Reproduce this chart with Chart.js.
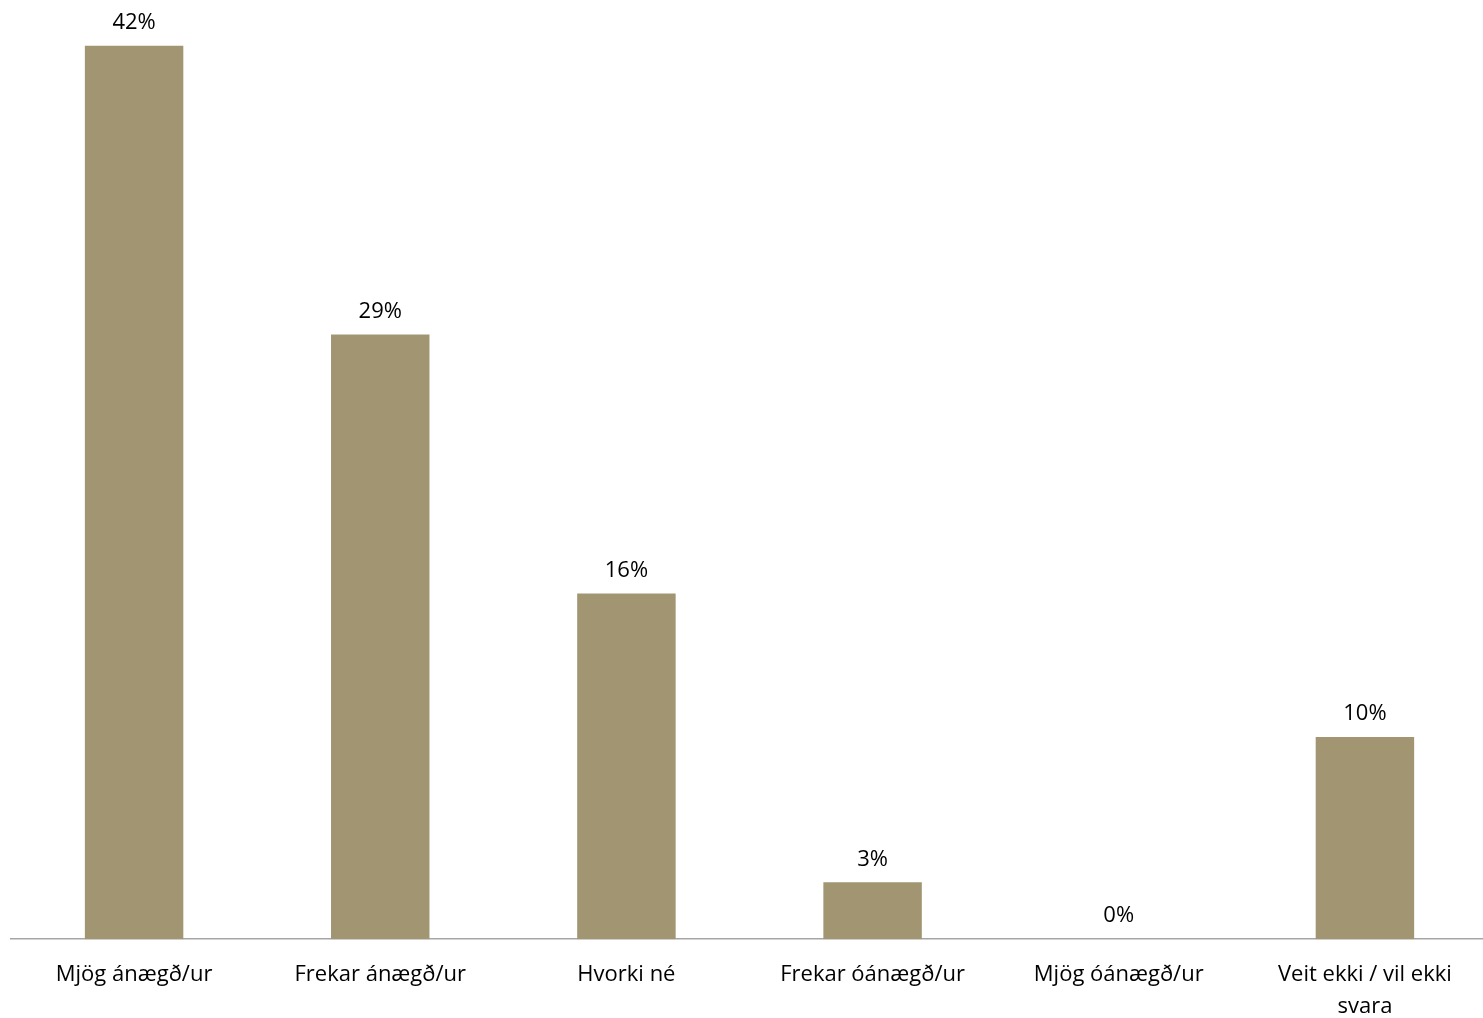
<!DOCTYPE html>
<html>
<head>
<meta charset="utf-8">
<script src="https://cdn.jsdelivr.net/npm/chart.js@4"></script>
<style>
html,body{margin:0;padding:0;background:#fff;overflow:hidden;}
#wrap{width:1489px;height:1018px;position:relative;}
</style>
</head>
<body>
<div id="wrap"><canvas id="c"></canvas></div>
<script>
const categories = ["Mjög ánægð/ur", "Frekar ánægð/ur", "Hvorki né", "Frekar óánægð/ur", "Mjög óánægð/ur", ["Veit ekki / vil ekki", "svara"]];
const values = [42.4, 28.7, 16.4, 2.7, 0, 9.6];
const valueLabels = ["42%", "29%", "16%", "3%", "0%", "10%"];

const FONT = "'Open Sans', 'Noto Sans', sans-serif";

const labelPlugin = {
  id: 'valueLabels',
  afterDatasetsDraw(chart) {
    const ctx = chart.ctx;
    const meta = chart.getDatasetMeta(0);
    ctx.save();
    ctx.font = "22px " + FONT;
    ctx.fillStyle = "#000";
    ctx.textAlign = "center";
    ctx.textBaseline = "bottom";
    meta.data.forEach((bar, i) => {
      ctx.fillText(valueLabels[i], bar.x, bar.y - 12);
    });
    ctx.restore();
  }
};

new Chart(document.getElementById('c'), {
  type: 'bar',
  data: {
    labels: categories,
    datasets: [{
      data: values,
      backgroundColor: '#A29572',
      barPercentage: 0.4,
      categoryPercentage: 1.0
    }]
  },
  options: {
    responsive: true,
    maintainAspectRatio: false,
    animation: false,
    layout: { padding: { top: 12, left: 11, right: 1, bottom: -25 } },
    plugins: { legend: { display: false }, tooltip: { enabled: false } },
    scales: {
      y: { display: false, min: 0, max: 44 },
      x: {
        grid: { display: false, drawTicks: false },
        border: { display: true, color: '#a6a6a6', width: 1.5 },
        ticks: {
          color: '#000',
          font: { size: 22, family: FONT, lineHeight: 1.45 },
          padding: 20,
          maxRotation: 0,
          autoSkip: false
        }
      }
    }
  },
  plugins: [labelPlugin]
});
</script>
</body>
</html>
